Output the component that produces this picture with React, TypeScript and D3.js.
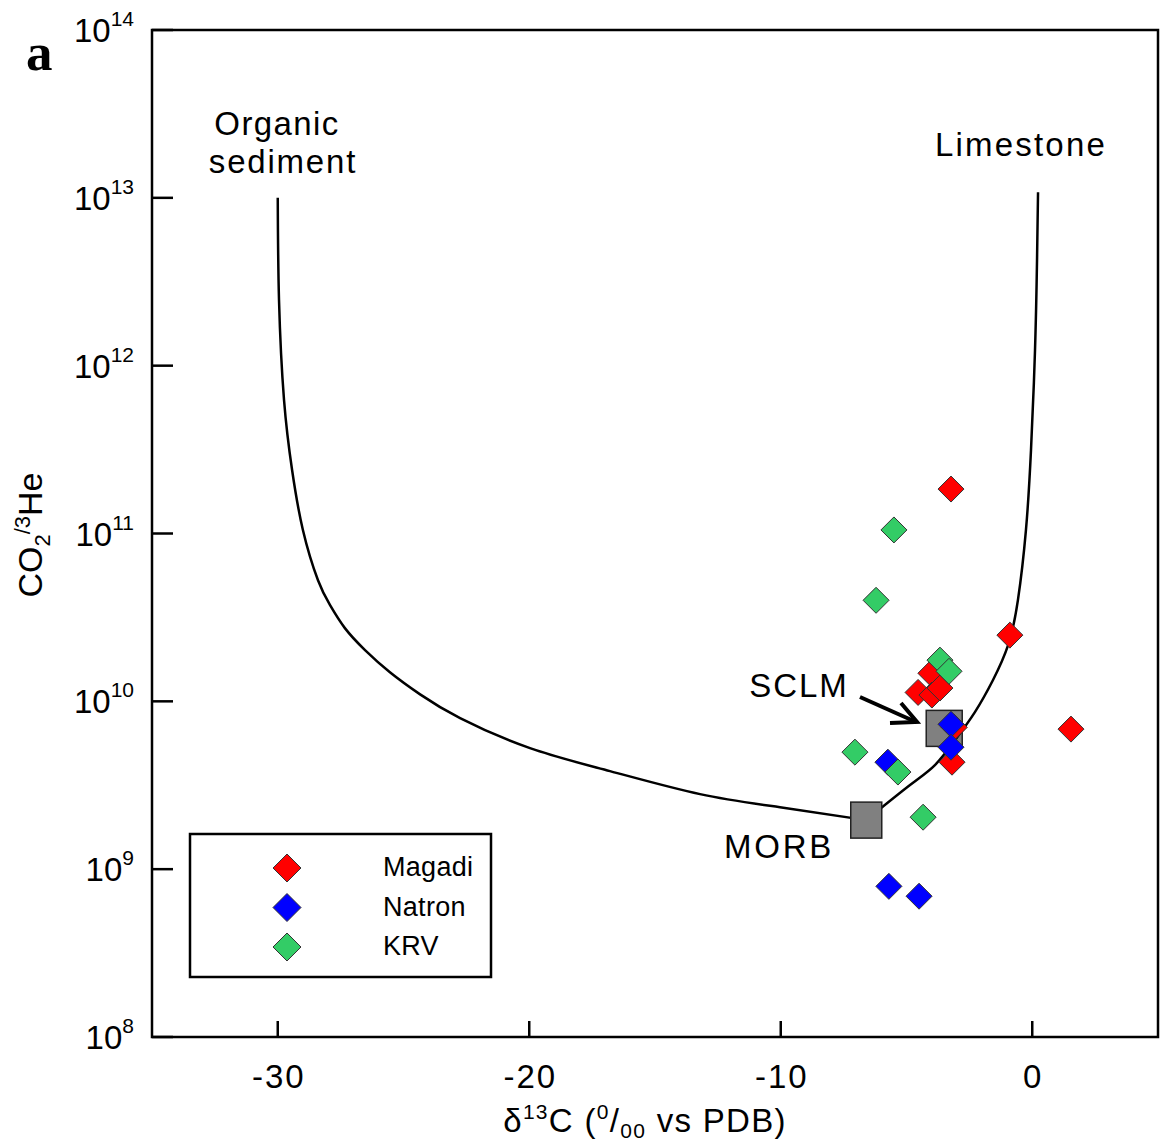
import React from "react";
import * as d3 from "d3";

// ---------- data ----------
const xTicks = [-30, -20, -10, 0];
const yExponents = [8, 9, 10, 11, 12, 13, 14];

const magadiD = [-3.23, -0.89, 1.54, -4.03, -4.54, -3.99, -3.67, -3.19, -3.1];
const magadiR = [1.84e11, 2.48e10, 6.83e9, 1.47e10, 1.13e10, 1.09e10, 1.2e10, 4.34e9, 7.0e9];

const natronD = [-3.23, -3.23, -5.74, -5.7, -4.5];
const natronR = [7.3e9, 5.33e9, 4.34e9, 7.9e8, 6.9e8];

const krvD = [-5.5, -6.21, -3.67, -3.31, -7.05, -5.34, -4.34];
const krvR = [1.05e11, 4.0e10, 1.76e10, 1.51e10, 4.98e9, 3.79e9, 2.04e9];

const morbPoint = { d: -6.6, r: 1.96e9 };
const sclmPoint = { d: -3.5, r: 6.9e9 };

// mixing curve MORB - organic sediment
const leftCurveD = [-30.0, -29.95, -29.75, -29.43, -29.0, -28.4, -27.92, -27.33, -26.53, -25.54, -24.34, -22.75, -19.97, -16.79, -13.21, -10.03, -6.6];
const leftCurveR = [1e13, 2.46e12, 6.24e11, 2.39e11, 1.05e11, 5.27e10, 3.74e10, 2.73e10, 2.02e10, 1.49e10, 1.1e10, 7.94e9, 5.26e9, 3.84e9, 2.8e9, 2.34e9, 1.96e9];

// mixing curve MORB - limestone
const rightCurveD = [-6.6, -4.86, -3.87, -3.07, -2.28, -1.56, -0.96, -0.57, -0.25, -0.05, 0.11, 0.19, 0.23];
const rightCurveR = [1.96e9, 3.17e9, 4.17e9, 5.87e9, 8.63e9, 1.34e10, 2.16e10, 4.01e10, 1.05e11, 3.14e11, 1.24e12, 4.26e12, 1.08e13];

const seriesNames = ["Magadi", "Natron", "KRV"];
const seriesColors = ["#ff0000", "#0000ff", "#33cc66"];

// ---------- layout ----------
const W = 1163;
const H = 1148;
const L = 152, R = 1158, T = 30, B = 1037;
const FONT = "'Liberation Sans', Arial, sans-serif";

const x = d3.scaleLinear().domain([-35, 5]).range([L, R]);
const y = d3.scaleLog().domain([1e8, 1e14]).range([B, T]);

const diamond = (r: number) => `M0,${-r}L${r},0L0,${r}L${-r},0Z`;

function Diamonds({ ds, rs, color }: { ds: number[]; rs: number[]; color: string }) {
  return (
    <g>
      {ds.map((d, i) => (
        <path
          key={i}
          d={diamond(13)}
          transform={`translate(${x(d)},${y(rs[i])})`}
          fill={color}
          stroke="#333"
          strokeWidth={1}
        />
      ))}
    </g>
  );
}

export default function App() {
  const smoothLine = d3
    .line<[number, number]>()
    .x((p) => x(p[0]))
    .y((p) => y(p[1]))
    .curve(d3.curveNatural);

  const leftPts = leftCurveD.map((d, i) => [d, leftCurveR[i]] as [number, number]);
  const rightPts = rightCurveD.map((d, i) => [d, rightCurveR[i]] as [number, number]);

  const seriesD = [magadiD, natronD, krvD];
  const seriesR = [magadiR, natronR, krvR];

  const ax = { fontFamily: FONT, fill: "#000" };

  return (
    <svg
      width={W}
      height={H}
      style={{ position: "absolute", left: 0, top: 0, background: "#fff" }}
      xmlns="http://www.w3.org/2000/svg"
    >
      <rect x={0} y={0} width={W} height={H} fill="#fff" />

      {/* panel letter */}
      <text x={26} y={70} fontFamily="'Liberation Serif', 'Times New Roman', serif" fontWeight="bold" fontSize={53}>
        a
      </text>

      {/* SCLM box under curve */}
      <rect
        x={x(sclmPoint.d) - 18}
        y={y(sclmPoint.r) - 18}
        width={36}
        height={36}
        fill="#808080"
        stroke="#222"
        strokeWidth={1.5}
      />

      {/* mixing curves */}
      <path d={smoothLine(leftPts) || ""} fill="none" stroke="#000" strokeWidth={2.5} />
      <path d={smoothLine(rightPts) || ""} fill="none" stroke="#000" strokeWidth={2.5} />

      {/* MORB box */}
      <rect
        x={x(morbPoint.d) - 15.5}
        y={y(morbPoint.r) - 18}
        width={31}
        height={36}
        fill="#808080"
        stroke="#222"
        strokeWidth={1.5}
      />

      {/* data */}
      {seriesD.map((ds, i) => (
        <Diamonds key={i} ds={ds} rs={seriesR[i]} color={seriesColors[i]} />
      ))}

      {/* frame */}
      <rect x={L} y={T} width={R - L} height={B - T} fill="none" stroke="#000" strokeWidth={2.5} />

      {/* x ticks */}
      {xTicks.map((t) => (
        <g key={t}>
          <line x1={x(t)} x2={x(t)} y1={B} y2={B - 16} stroke="#000" strokeWidth={2.5} />
          <text x={x(t) + 1} y={1088} textAnchor="middle" fontSize={33} letterSpacing={2} {...ax}>
            {t}
          </text>
        </g>
      ))}

      {/* y ticks */}
      {yExponents.map((e) => {
        const v = Math.pow(10, e);
        return (
          <g key={e}>
            <line x1={L} x2={L + 21} y1={y(v)} y2={y(v)} stroke="#000" strokeWidth={2.5} />
            <text x={134} y={y(v) + 12} textAnchor="end" fontSize={33} {...ax}>
              <tspan>10</tspan>
              <tspan fontSize={21} dy={-16}>
                {e}
              </tspan>
            </text>
          </g>
        );
      })}

      {/* x axis title */}
      <text x={645} y={1132} textAnchor="middle" fontSize={33} letterSpacing={1.3} {...ax}>
        <tspan>δ</tspan>
        <tspan fontSize={21} dy={-13}>13</tspan>
        <tspan dy={13}>C (</tspan>
        <tspan fontSize={21} dy={-13}>0</tspan>
        <tspan dy={13}>/</tspan>
        <tspan fontSize={21} dy={6}>00</tspan>
        <tspan dy={-6}> vs PDB)</tspan>
      </text>

      {/* y axis title */}
      <text transform="translate(42,535) rotate(-90)" textAnchor="middle" fontSize={34} {...ax}>
        <tspan>CO</tspan>
        <tspan fontSize={22} dy={8}>2</tspan>
        <tspan fontSize={22} dy={-20}>/3</tspan>
        <tspan dy={12}>He</tspan>
      </text>

      {/* annotations */}
      <text x={277} y={135} textAnchor="middle" fontSize={33} letterSpacing={1.4} {...ax}>
        Organic
      </text>
      <text x={283} y={173} textAnchor="middle" fontSize={33} letterSpacing={1.8} {...ax}>
        sediment
      </text>
      <text x={1021} y={156} textAnchor="middle" fontSize={33} letterSpacing={2.2} {...ax}>
        Limestone
      </text>
      <text x={799} y={697} textAnchor="middle" fontSize={33} letterSpacing={2} {...ax}>
        SCLM
      </text>
      <text x={779} y={858} textAnchor="middle" fontSize={33} letterSpacing={2.7} {...ax}>
        MORB
      </text>

      {/* arrow to SCLM */}
      <g stroke="#000" strokeWidth={4} fill="none" strokeLinecap="butt">
        <line x1={860} y1={697} x2={916} y2={722} />
        <polyline points="901,703 917,722 890,723" strokeLinejoin="miter" />
      </g>

      {/* legend */}
      <rect x={190} y={834} width={301} height={143} fill="#fff" stroke="#000" strokeWidth={2.5} />
      {seriesNames.map((n, i) => (
        <g key={n}>
          <path
            d={diamond(14)}
            transform={`translate(287,${868 + i * 39.5})`}
            fill={seriesColors[i]}
            stroke="#333"
            strokeWidth={1}
          />
          <text x={383} y={876 + i * 39.5} fontSize={27} letterSpacing={0.3} {...ax}>
            {n}
          </text>
        </g>
      ))}
    </svg>
  );
}
